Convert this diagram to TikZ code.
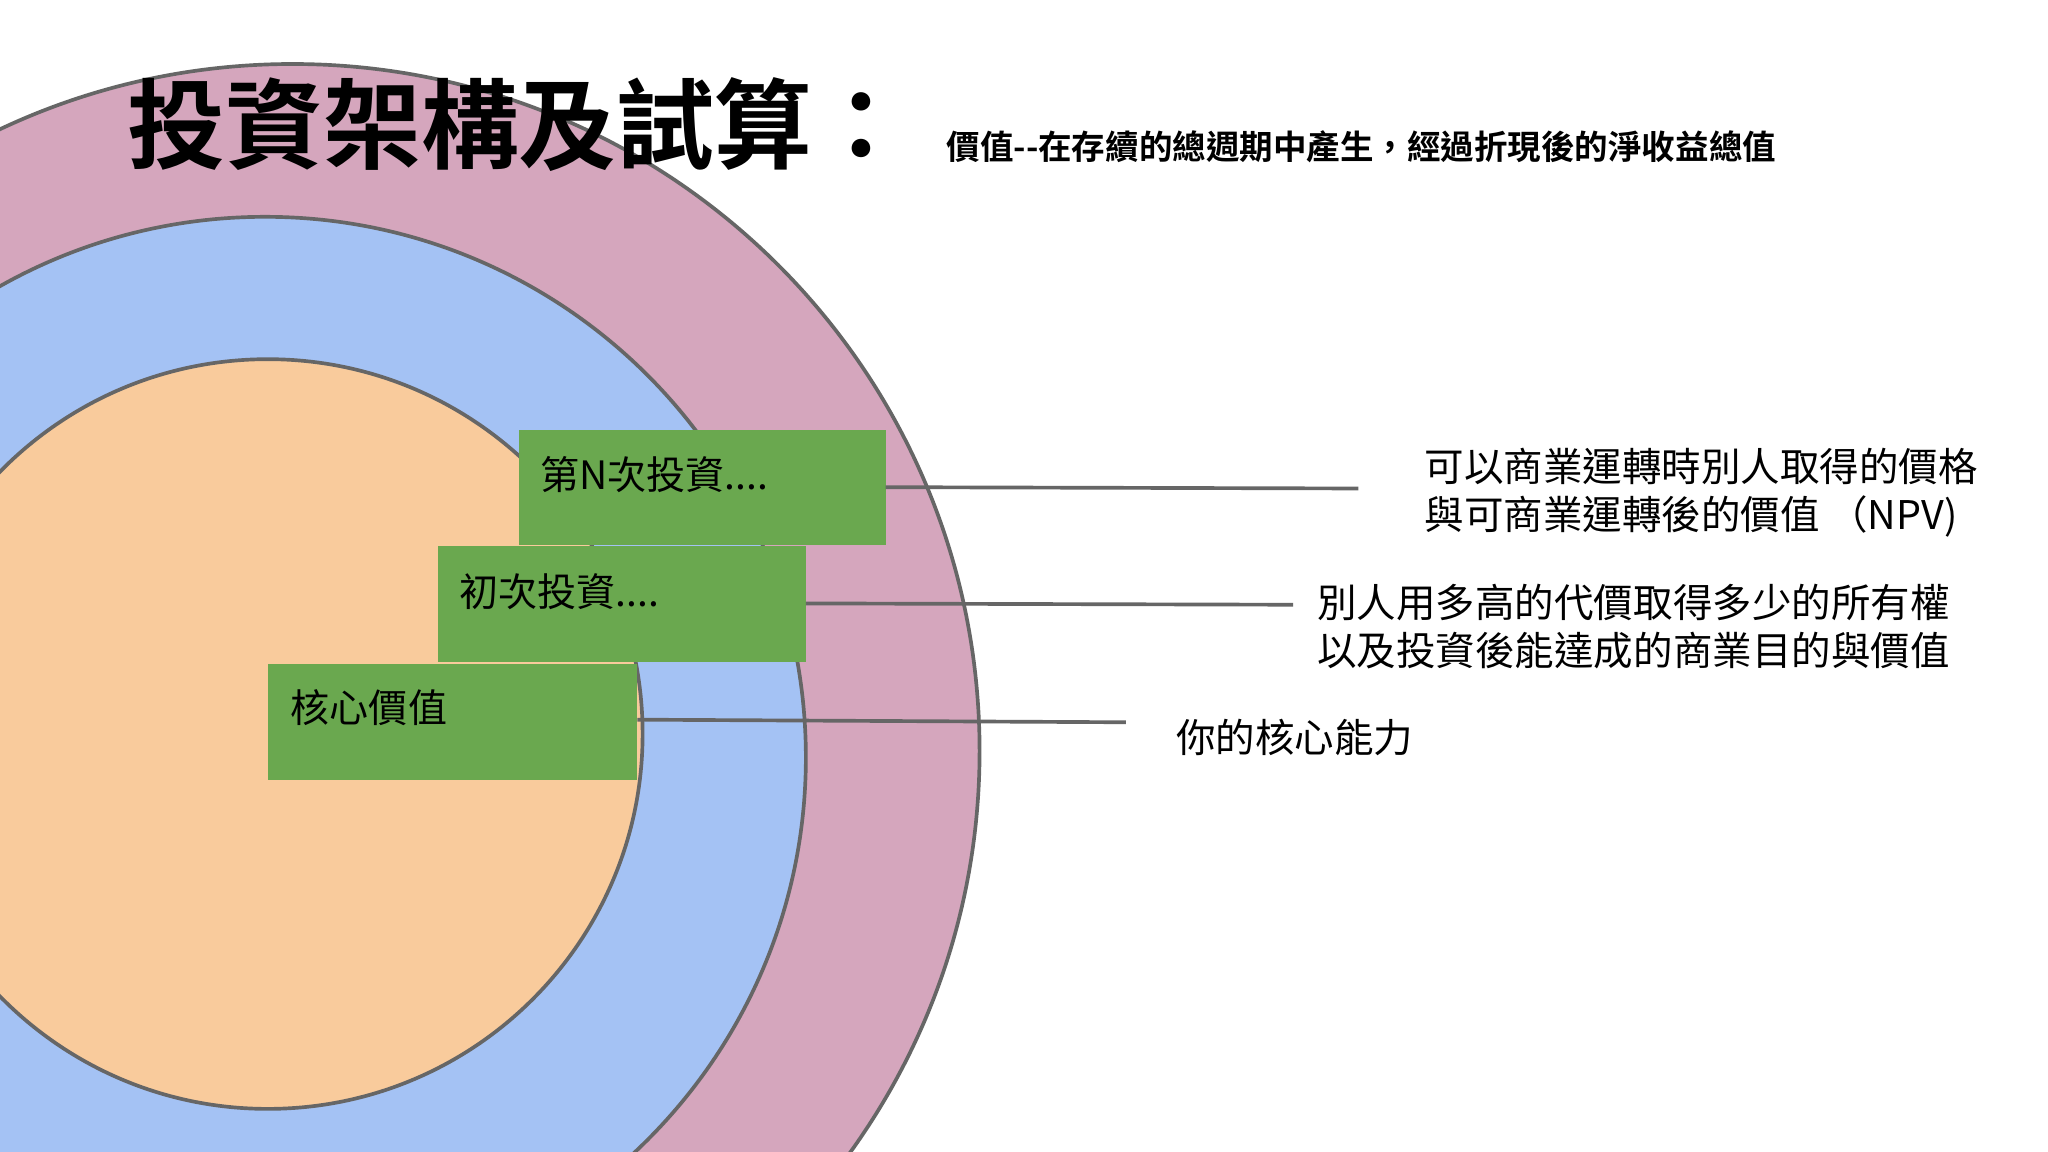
\documentclass[tikz,border=0pt]{standalone}
\usepackage{fontspec}
\setmainfont{Noto Sans CJK TC}
\newfontfamily\cjkb[BoldFont={* Bold}]{Noto Sans CJK TC}
\definecolor{pinkc}{HTML}{D5A6BD}
\definecolor{bluec}{HTML}{A4C2F4}
\definecolor{peachc}{HTML}{F9CB9C}
\definecolor{greenc}{HTML}{6AA84F}
\definecolor{edgec}{HTML}{666666}
\begin{document}
\begin{tikzpicture}[x=0.01cm,y=-0.01cm,
  ring/.style={draw=edgec,line width=0.8pt},
  gbox/.style={fill=greenc},
  btxt/.style={anchor=west,font=\fontsize{8.5pt}{10pt}\selectfont,inner sep=0},
  lbl/.style={anchor=west,align=left,font=\fontsize{8.6pt}{10.5pt}\selectfont,inner sep=0},
  conn/.style={draw=edgec,line width=0.8pt}]
\useasboundingbox (0,0) rectangle (1568,882);
\begin{scope}
\clip (0,0) rectangle (1568,882);
\fill[white] (0,0) rectangle (1568,882);
\draw[ring,fill=pinkc] (224,575) circle[radius=526];
\draw[ring,fill=bluec] (203,580) circle[radius=414];
\draw[ring,fill=peachc] (205,562) circle[radius=287];
\end{scope}
\fill[gbox] (397,329) rectangle (678,417);
\fill[gbox] (335,418) rectangle (617,507);
\fill[gbox] (205,508) rectangle (488,597);
\node[btxt] (b3) at (413,363) {第N次投資....};
\node[btxt] (b2) at (351,453) {初次投資....};
\node[btxt] (b1) at (222,542) {核心價值};
\coordinate (s3) at (678,373); \coordinate (e3) at (1040,374);
\coordinate (s2) at (617,462); \coordinate (e2) at (990,463);
\coordinate (s1) at (488,551); \coordinate (e1) at (862,553);
\draw[conn] (s3) -- (e3);
\draw[conn] (s2) -- (e2);
\draw[conn] (s1) -- (e1);
\node[lbl] (l3) at (1090,377) {可以商業運轉時別人取得的價格\\與可商業運轉後的價值 （NPV)};
\node[lbl] (l2) at (1008,480) {別人用多高的代價取得多少的所有權\\以及投資後能達成的商業目的與價值};
\node[lbl] (l1) at (900,565) {你的核心能力};
\node[anchor=west,inner sep=0,font=\cjkb\bfseries\fontsize{21.3pt}{24pt}\selectfont] (title) at (97,95) {投資架構及試算：};
\node[anchor=west,inner sep=0,font=\cjkb\bfseries\fontsize{7.3pt}{9pt}\selectfont] (sub) at (724,112) {價值--在存續的總週期中產生，經過折現後的淨收益總值};
\end{tikzpicture}
\end{document}
